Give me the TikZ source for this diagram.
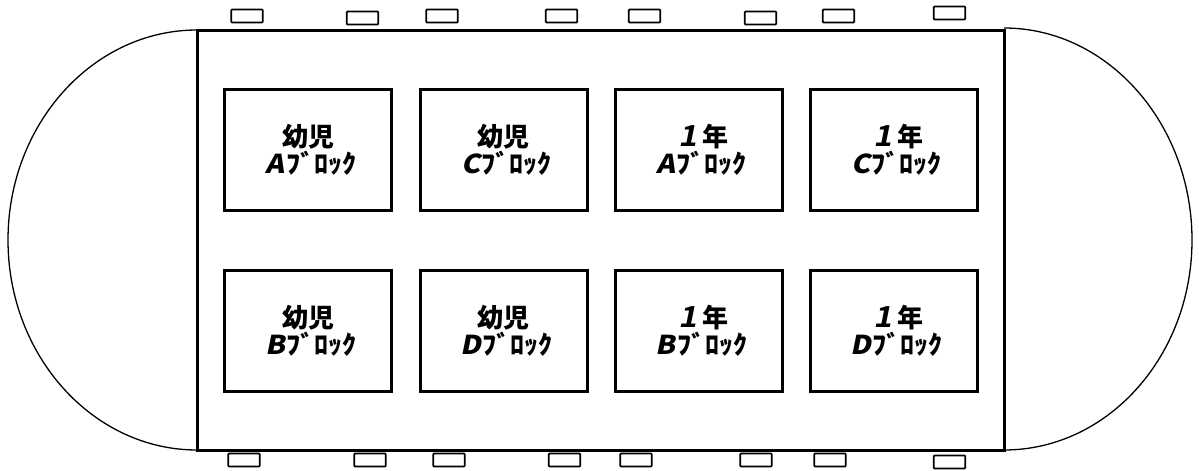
\documentclass[tikz,border=0pt]{standalone}
\usepackage{fontspec}
\newfontfamily\cjk{Noto Sans CJK JP}[BoldFont={Noto Sans CJK JP Black}]
\newfontfamily\kana{Noto Sans CJK JP Black}[FakeStretch=1.08]
\newfontfamily\latn{Noto Sans CJK JP Black}[FakeSlant=0.2,FakeStretch=1.1]
\setmainfont{Liberation Sans}
\newcommand{\lab}[2]{{\cjk\bfseries\fontsize{26pt}{26pt}\selectfont #1}\\[1pt]\hspace*{6pt}{\latn\fontsize{26pt}{26pt}\selectfont #2}\kern1.5pt{\kana\fontsize{26pt}{26pt}\selectfont ﾌﾞﾛｯｸ}}
\newcommand{\yr}{\hspace*{10pt}{\latn\fontsize{29pt}{26pt}\selectfont 1}\,年}
\tikzset{x=1pt,y=-1pt,
 hall/.style={draw,line width=3pt,minimum width=167pt,minimum height=121pt,inner sep=0pt,align=center},
 door/.style={draw,line width=1.7pt,rounded corners=0.8pt,minimum width=31.5pt,minimum height=13pt,inner sep=0pt}}
\begin{document}
\begin{tikzpicture}
\useasboundingbox (0,0) rectangle (1199,471);
\draw[line width=1.3pt] (197,30) .. controls (93,30) and (8,124) .. (8,240) .. controls (8,356) and (93,450) .. (197,450);
\draw[line width=1.3pt] (1004,28) .. controls (1108,28) and (1192,124) .. (1192,240) .. controls (1192,356) and (1108,450) .. (1004,450);
\node[draw,line width=3pt,minimum width=807pt,minimum height=420pt,inner sep=0pt] (main) at (601,240) {};
\node[hall] (a1) at (308,149.5) {\lab{幼児}{A}};
\node[hall] (a2) at (503.5,149.5) {\lab{幼児}{C}};
\node[hall] (a3) at (698.5,149.5) {\lab{\yr}{A}};
\node[hall] (a4) at (893.5,149.5) {\lab{\yr}{C}};
\node[hall] (b1) at (308,330.5) {\lab{幼児}{B}};
\node[hall] (b2) at (503.5,330.5) {\lab{幼児}{D}};
\node[hall] (b3) at (698.5,330.5) {\lab{\yr}{B}};
\node[hall] (b4) at (893.5,330.5) {\lab{\yr}{D}};
\node[door] (t1) at (247,16) {};
\node[door] (t2) at (362.5,18) {};
\node[door] (t3) at (442,16) {};
\node[door] (t4) at (561.5,16) {};
\node[door] (t5) at (644.5,16) {};
\node[door] (t6) at (760.5,18) {};
\node[door] (t7) at (838.5,16) {};
\node[door] (t8) at (949.5,13) {};
\node[door] (u1) at (244,460) {};
\node[door] (u2) at (370,460) {};
\node[door] (u3) at (449,460) {};
\node[door] (u4) at (564.5,460) {};
\node[door] (u5) at (636,460) {};
\node[door] (u6) at (756,460) {};
\node[door] (u7) at (830,460) {};
\node[door] (u8) at (949.5,462) {};
\end{tikzpicture}
\end{document}
